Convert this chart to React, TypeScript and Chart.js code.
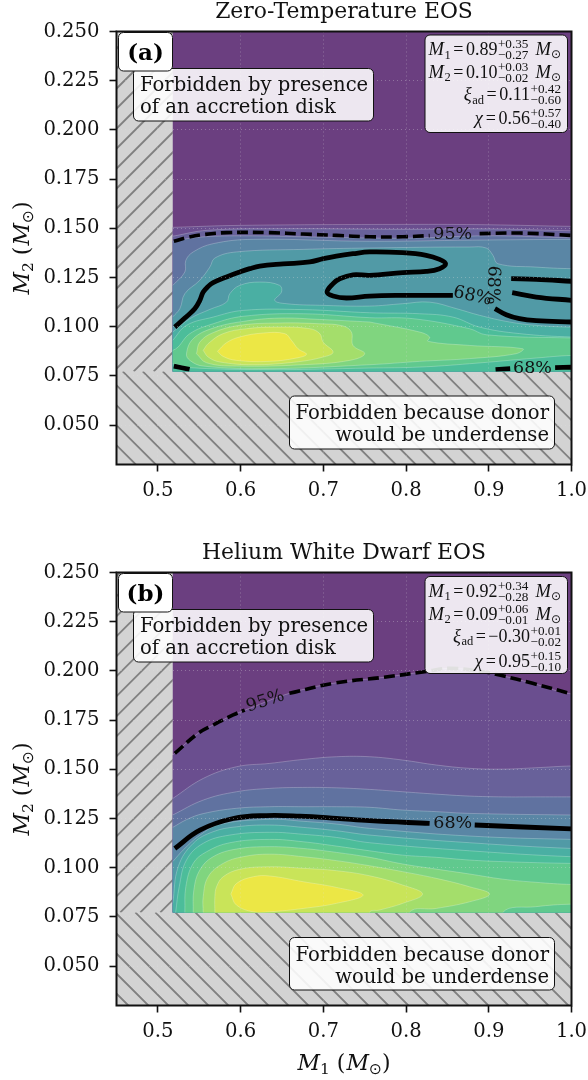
import React, { useEffect, useRef } from "react";
import { Chart, registerables } from "chart.js";

Chart.register(...registerables);

type Pt = number[];

// axes and forbidden regions (M_sun)
const xMin = 0.45, xMax = 1.0, yMin = 0.03, yMax = 0.25;
const m1Limit = 0.518, m2Limit = 0.0773;
const xTicks = [0.5, 0.6, 0.7, 0.8, 0.9, 1.0];
const yTicks = [0.05, 0.075, 0.1, 0.125, 0.15, 0.175, 0.2, 0.225, 0.25];

const levelColors = ["#6b3f80", "#6a4e8f", "#68619a", "#6072a0", "#5a86a5", "#519aa6", "#4aafa3", "#4cbd9a", "#60c98e", "#80d57f", "#a4de6b", "#c9e459", "#ece745"];

// Panel (a) probability contours: outer to inner
const a1: Pt[] = [[0.518, 0.1505], [0.6, 0.1515], [0.8, 0.152], [0.9, 0.1518], [1, 0.151]];
const a2: Pt[] = [[0.518, 0.146], [0.56, 0.149], [0.65, 0.1498], [0.8, 0.1495], [0.9, 0.1497], [1, 0.1488]];
const a3: Pt[] = [[0.518, 0.1435], [0.55, 0.1455], [0.6, 0.1462], [0.7, 0.1455], [0.8, 0.145], [0.9, 0.1462], [1, 0.1452]];
const a4: Pt[] = [[0.518, 0.121], [0.5326, 0.1278], [0.5338, 0.1337], [0.5427, 0.138], [0.5668, 0.1422], [0.6151, 0.1444], [0.756, 0.1434], [0.88, 0.144], [1, 0.1444]];
const a5: Pt[] = [[0.518, 0.105], [0.5266, 0.1092], [0.5326, 0.1168], [0.5507, 0.1236], [0.5628, 0.1303], [0.5689, 0.1349], [0.595, 0.138], [0.6755, 0.1393], [0.756, 0.14], [0.8768, 0.1405], [0.8969, 0.14], [0.905, 0.1363], [0.911, 0.132], [0.9573, 0.1303], [1, 0.1295]];
const a6: Pt[] = [[0.518, 0.0973], [0.5387, 0.1041], [0.5628, 0.1088], [0.583, 0.1125], [0.587, 0.1168], [0.599, 0.121], [0.6232, 0.1227], [0.6473, 0.121], [0.6494, 0.1176], [0.6413, 0.1134], [0.6554, 0.1117], [0.6957, 0.1109], [0.756, 0.1105], [0.796, 0.1117], [0.8285, 0.1125], [0.8607, 0.1092], [0.8889, 0.1058], [0.9251, 0.1024], [0.9573, 0.1007], [1, 0.0998]];
const a7: Pt[] = [[0.518, 0.0931], [0.5346, 0.1007], [0.5668, 0.1049], [0.603, 0.1083], [0.6755, 0.1087], [0.756, 0.1071], [0.8164, 0.1066], [0.8566, 0.1049], [0.8889, 0.0998], [0.9372, 0.0965], [1, 0.0948]];
const a8: Pt[] = [[0.48, 0.0812], [0.48, 0.088], [0.518, 0.088], [0.5387, 0.0965], [0.5668, 0.1015], [0.603, 0.1053], [0.6755, 0.1066], [0.756, 0.1046], [0.8083, 0.1041], [0.8768, 0.099], [0.8969, 0.0959], [1, 0.0943], [1.05, 0.0943], [1.05, 0.0854], [1, 0.0854], [0.9573, 0.0841], [0.8768, 0.0812], [0.8164, 0.0795], [0.756, 0.079], [0.6353, 0.0782], [0.5387, 0.0792], [0.518, 0.0812], [0.48, 0.0812]];
const a9: Pt[] = [[0.756, 0.1024], [0.8164, 0.0973], [0.8285, 0.0948], [0.8265, 0.0926], [0.8768, 0.0905], [0.9412, 0.0888], [0.9331, 0.0863], [0.8768, 0.0838], [0.8164, 0.0824], [0.756, 0.0807], [0.6353, 0.0787], [0.5548, 0.08], [0.5387, 0.0829], [0.5346, 0.0863], [0.5427, 0.0939], [0.5668, 0.0993], [0.603, 0.1027], [0.6473, 0.1044], [0.6957, 0.1037], [0.756, 0.1024]];
const a10: Pt[] = [[0.5467, 0.0863], [0.5507, 0.0922], [0.5668, 0.097], [0.599, 0.1007], [0.6473, 0.1019], [0.6957, 0.1015], [0.7238, 0.1004], [0.7339, 0.0973], [0.7359, 0.0905], [0.75, 0.0863], [0.7319, 0.0829], [0.6755, 0.0807], [0.595, 0.08], [0.5588, 0.0817], [0.5467, 0.0863]];
const a11: Pt[] = [[0.5548, 0.088], [0.5608, 0.0914], [0.5789, 0.0965], [0.6071, 0.099], [0.6433, 0.0998], [0.6836, 0.099], [0.6957, 0.0965], [0.6997, 0.0922], [0.7118, 0.0871], [0.6997, 0.0846], [0.6675, 0.0821], [0.6151, 0.0807], [0.5749, 0.0821], [0.5608, 0.0846], [0.5548, 0.088]];
const a12: Pt[] = [[0.5721, 0.0875], [0.583, 0.0919], [0.599, 0.0948], [0.6272, 0.0968], [0.6534, 0.0965], [0.6614, 0.0931], [0.6695, 0.0888], [0.6796, 0.086], [0.6675, 0.0841], [0.6353, 0.0824], [0.595, 0.0829], [0.5789, 0.0849], [0.5721, 0.0875]];

// Panel (a) credible-interval lines
const a95Left: Pt[] = [[0.5193, 0.1434], [0.5346, 0.1452], [0.5548, 0.1468], [0.583, 0.1478], [0.6353, 0.1478], [0.6755, 0.1471], [0.7158, 0.1464], [0.756, 0.1457], [0.796, 0.1457], [0.8285, 0.1463]];
const a95Right: Pt[] = [[0.8889, 0.1473], [0.9372, 0.1476], [1, 0.1464]];
const a68Main: Pt[] = [[0.5205, 0.0998], [0.5326, 0.1044], [0.5447, 0.1092], [0.5507, 0.1134], [0.5548, 0.1176], [0.5608, 0.1205], [0.5668, 0.1224], [0.583, 0.1253], [0.599, 0.1278], [0.6111, 0.1295], [0.6232, 0.1308], [0.6514, 0.1319], [0.6836, 0.1329], [0.7, 0.1346], [0.7158, 0.1359], [0.7359, 0.1371], [0.756, 0.138], [0.796, 0.1376], [0.8244, 0.1363], [0.8405, 0.1342], [0.8478, 0.132], [0.8405, 0.1295], [0.8244, 0.1281], [0.796, 0.1275], [0.756, 0.1261], [0.7359, 0.1264], [0.7198, 0.1244], [0.7118, 0.1219], [0.7045, 0.1176], [0.7118, 0.1156], [0.7279, 0.1146], [0.756, 0.1156], [0.796, 0.1159], [0.8566, 0.1159]];
const a68Lower: Pt[] = [[0.9074, 0.1092], [0.9211, 0.1061], [0.9372, 0.1041], [0.9573, 0.1031], [1, 0.1024]];
const a68Upper: Pt[] = [[0.9271, 0.1244], [0.9573, 0.1241], [1, 0.1231]];
const a68Mid: Pt[] = [[0.9283, 0.1173], [0.9573, 0.1151], [1, 0.1134]];
const a68CornerL: Pt[] = [[0.5193, 0.08], [0.5383, 0.0783]];
const a68CornerR1: Pt[] = [[0.9082, 0.0782], [0.9259, 0.0787]];
const a68CornerR2: Pt[] = [[0.9802, 0.0792], [1, 0.0794]];

// Panel (b) probability contours: outer to inner
const b1: Pt[] = [[0.518, 0.1573], [0.5487, 0.1683], [0.5668, 0.1725], [0.591, 0.1776], [0.611, 0.181], [0.659, 0.1886], [0.712, 0.1937], [0.772, 0.1967], [0.8225, 0.1996], [0.853, 0.2013], [0.893, 0.1996], [0.913, 0.1979], [0.953, 0.1937], [1, 0.1883]];
const b2: Pt[] = [[0.518, 0.1352], [0.555, 0.1454], [0.595, 0.1513], [0.635, 0.153], [0.675, 0.155], [0.716, 0.1564], [0.756, 0.1564], [0.796, 0.1547], [0.8365, 0.1522], [0.877, 0.1505], [0.917, 0.1501], [0.957, 0.1508], [1, 0.1517]];
const b3: Pt[] = [[0.518, 0.1268], [0.555, 0.1344], [0.595, 0.1386], [0.635, 0.1403], [0.675, 0.1408], [0.716, 0.1406], [0.756, 0.1398], [0.796, 0.1386], [0.8365, 0.1374], [0.877, 0.1364], [0.917, 0.136], [0.957, 0.136], [1, 0.136]];
const b4: Pt[] = [[0.518, 0.1205], [0.535, 0.1245], [0.5548, 0.1275], [0.595, 0.1302], [0.6353, 0.131], [0.6755, 0.131], [0.7158, 0.131], [0.756, 0.1307], [0.796, 0.1293], [0.8365, 0.1285], [0.877, 0.1276], [1, 0.1268]];
const b5: Pt[] = [[0.518, 0.1031], [0.5306, 0.109], [0.5507, 0.1165], [0.5749, 0.122], [0.6353, 0.1246], [0.6755, 0.1236], [0.7158, 0.1222], [0.756, 0.12], [0.877, 0.1161], [1, 0.1144]];
const b6: Pt[] = [[0.518, 0.0819], [0.5246, 0.1005], [0.5427, 0.1124], [0.5668, 0.1183], [0.595, 0.1208], [0.6353, 0.1217], [0.6755, 0.1205], [0.7158, 0.1188], [0.756, 0.1166], [0.877, 0.1127], [1, 0.1098]];
const b7: Pt[] = [[0.5215, 0.0773], [0.5258, 0.0903], [0.5346, 0.1039], [0.5548, 0.1124], [0.587, 0.1166], [0.6353, 0.118], [0.6755, 0.117], [0.7158, 0.1154], [0.756, 0.1127], [0.877, 0.1086], [1, 0.1056]];
const b8: Pt[] = [[0.5326, 0.0773], [0.5338, 0.0903], [0.5427, 0.1022], [0.5588, 0.1081], [0.587, 0.1127], [0.6353, 0.1144], [0.6755, 0.1132], [0.7158, 0.111], [0.756, 0.1086], [0.796, 0.1064], [0.8365, 0.1053], [0.877, 0.1039], [0.917, 0.1031], [1, 0.1022]];
const b9: Pt[] = [[0.5427, 0.0773], [0.5435, 0.0887], [0.5507, 0.0988], [0.5668, 0.1056], [0.595, 0.1095], [0.6353, 0.1107], [0.6755, 0.1098], [0.7158, 0.1078], [0.756, 0.1053], [0.796, 0.1019], [0.8365, 0.0993], [0.877, 0.0968], [0.917, 0.0942], [0.957, 0.0926], [1, 0.0915], [1.05, 0.0915], [1.05, 0.0815], [1, 0.0815], [0.957, 0.0802], [0.917, 0.0773]];
const b10: Pt[] = [[0.5548, 0.0773], [0.5548, 0.0853], [0.5608, 0.0954], [0.5789, 0.1022], [0.603, 0.1056], [0.6353, 0.1069], [0.6755, 0.1056], [0.7158, 0.1036], [0.756, 0.101], [0.796, 0.098], [0.8365, 0.0946], [0.877, 0.0903], [0.901, 0.0866], [0.877, 0.0827], [0.8365, 0.0793], [0.804, 0.0773]];
const b11: Pt[] = [[0.5689, 0.0773], [0.5689, 0.0853], [0.5709, 0.0903], [0.5789, 0.0954], [0.599, 0.0992], [0.6353, 0.1005], [0.6755, 0.0997], [0.7158, 0.0985], [0.756, 0.0959], [0.796, 0.0912], [0.82, 0.0866], [0.796, 0.0819], [0.768, 0.0785], [0.756, 0.0773]];
const b12: Pt[] = [[0.5882, 0.0866], [0.595, 0.092], [0.6151, 0.0954], [0.6353, 0.0958], [0.6755, 0.0929], [0.7158, 0.09], [0.748, 0.0861], [0.7158, 0.0819], [0.6755, 0.0793], [0.6353, 0.0776], [0.6151, 0.0776], [0.595, 0.081], [0.5882, 0.0866]];

// Panel (b) credible-interval lines
const b95Left: Pt[] = [[0.5205, 0.1581], [0.5487, 0.1683], [0.5668, 0.1725], [0.591, 0.1776], [0.605, 0.1801]];
const b95Right: Pt[] = [[0.659, 0.1886], [0.712, 0.1937], [0.772, 0.1967], [0.8225, 0.1996], [0.853, 0.2013], [0.893, 0.1996], [0.913, 0.1979], [0.953, 0.1937], [1, 0.1883]];
const b68Left: Pt[] = [[0.5205, 0.1098], [0.5508, 0.1191], [0.591, 0.125], [0.631, 0.1265], [0.6715, 0.1262], [0.7158, 0.1251], [0.756, 0.1239], [0.8285, 0.1225]];
const b68Right: Pt[] = [[0.883, 0.1217], [1, 0.1197]];

// Annotations
const panelTitles = ["Zero-Temperature EOS", "Helium White Dwarf EOS"];
const panelTags = ["(a)", "(b)"];
const diskNote = ["Forbidden by presence", "of an accretion disk"];
const donorNote = ["Forbidden because donor", "would be underdense"];
const statNames = ["M", "M", "ξ", "χ"];
const statSubs = ["1", "2", "ad", ""];
const statUnits = [true, true, false, false];
const aStatValues = ["0.89", "0.10", "0.11", "0.56"];
const aStatPlus = ["+0.35", "+0.03", "+0.42", "+0.57"];
const aStatMinus = ["−0.27", "−0.02", "−0.60", "−0.40"];
const bStatValues = ["0.92", "0.09", "−0.30", "0.95"];
const bStatPlus = ["+0.34", "+0.06", "+0.01", "+0.15"];
const bStatMinus = ["−0.28", "−0.01", "−0.02", "−0.10"];
const aLabels: [string, number, number, number][] = [["95%", 0.8565, 0.147, 0], ["68%", 0.8804, 0.1155, 12], ["68%", 0.9046, 0.1212, 92], ["68%", 0.9529, 0.079, 0]];
const bLabels: [string, number, number, number][] = [["95%", 0.63, 0.1845, -18], ["68%", 0.8565, 0.1225, 0]];

const OUT_L = 0.48, OUT_R = 1.05, OUT_B = 0.06;
const isBottom = (p: Pt) => p[1] <= 0.078;
function region(pts: Pt[]): Pt[] {
  const f = pts[0], l = pts[pts.length - 1];
  if (f[0] === l[0] && f[1] === l[1]) return pts;
  const out = pts.slice();
  if (isBottom(l)) out.push([l[0], OUT_B]);
  else out.push([OUT_R, l[1]], [OUT_R, OUT_B]);
  if (isBottom(f)) out.push([f[0], OUT_B]);
  else out.push([OUT_L, OUT_B], [OUT_L, f[1]]);
  out.push(f);
  return out;
}
const xy = (pts: Pt[]) => pts.map((p) => ({ x: p[0], y: p[1] }));

const SERIF = '"DejaVu Serif"';
const MATH = '"Liberation Serif"';

function roundBox(ctx: any, x0: number, y0: number, x1: number, y1: number, fill: string) {
  ctx.beginPath();
  ctx.roundRect(x0, y0, x1 - x0, y1 - y0, 5);
  ctx.fillStyle = fill;
  ctx.fill();
  ctx.lineWidth = 1;
  ctx.strokeStyle = "#111";
  ctx.stroke();
}

function hatch(ctx: any, x0: number, y0: number, x1: number, y1: number, dir: number, phase: number) {
  ctx.save();
  ctx.beginPath();
  ctx.rect(x0, y0, x1 - x0, y1 - y0);
  ctx.clip();
  ctx.strokeStyle = "#808080";
  ctx.lineWidth = 1.8;
  const h = y1 - y0;
  const step = 20;
  const start = Math.floor((x0 - h - 40) / step) * step + phase;
  ctx.beginPath();
  for (let c = start; c < x1 + h + 40; c += step) {
    if (dir > 0) { ctx.moveTo(c, y1); ctx.lineTo(c + h, y0); }
    else { ctx.moveTo(c, y0); ctx.lineTo(c + h, y1); }
  }
  ctx.stroke();
  ctx.restore();
}

type Run = { t: string; f: string; dy?: number; sup?: string; sub?: string; gap?: number };

function runWidth(ctx: any, r: Run) {
  ctx.font = r.f;
  const w = r.sup !== undefined ? Math.max(ctx.measureText(r.sup).width, ctx.measureText(r.sub || "").width) : ctx.measureText(r.t).width;
  return w + (r.gap || 0);
}
function drawRuns(ctx: any, runs: Run[], x: number, y: number) {
  let px = x;
  ctx.textAlign = "left";
  ctx.textBaseline = "alphabetic";
  for (const r of runs) {
    ctx.font = r.f;
    if (r.sup !== undefined) {
      ctx.fillText(r.sup, px, y - 6.7);
      ctx.fillText(r.sub || "", px, y + 4.3);
    } else {
      ctx.fillText(r.t, px, y + (r.dy || 0));
    }
    px += runWidth(ctx, r);
  }
}
const totalWidth = (ctx: any, runs: Run[]) => runs.reduce((a, r) => a + runWidth(ctx, r), 0);

function axisRuns(sub: string): Run[] {
  const it = `italic 22px ${SERIF}`;
  const rm = `22px ${SERIF}`;
  return [
    { t: "M", f: it },
    { t: sub, f: `15.5px ${SERIF}`, dy: 3.5, gap: 7 },
    { t: "(", f: rm, gap: 1 },
    { t: "M", f: it },
    { t: "⊙", f: `15.5px "DejaVu Sans"`, dy: 3.5 },
    { t: ")", f: rm },
  ];
}

function makePlugin(idx: number, values: string[], plus: string[], minus: string[], labels: [string, number, number, number][], showXLabel: boolean, statRows: number[], noteY: number[]) {
  return {
    id: "panelDecor" + idx,
    beforeDatasetsDraw(chart: any) {
      const { ctx, chartArea: a, scales } = chart;
      const xS = scales.x, yS = scales.y;
      const xl = xS.getPixelForValue(m1Limit), yl = yS.getPixelForValue(m2Limit);
      ctx.fillStyle = "#d3d3d3";
      ctx.fillRect(a.left, a.top, a.right - a.left, a.bottom - a.top);
      hatch(ctx, a.left, a.top, xl, yl, 1, idx === 0 ? 13.7 : 0.3);
      hatch(ctx, a.left, yl, a.right, a.bottom, -1, idx === 0 ? 2.7 : 15.3);
      ctx.save();
      ctx.beginPath();
      ctx.rect(xl, a.top, a.right - xl, yl - a.top);
      ctx.clip();
    },
    afterDatasetsDraw(chart: any) {
      chart.ctx.restore();
    },
    afterDraw(chart: any) {
      const { ctx, chartArea: a, scales } = chart;
      const xS = scales.x, yS = scales.y;
      ctx.save();
      ctx.fillStyle = "#111";
      ctx.textBaseline = "middle";
      ctx.textAlign = "center";
      ctx.font = `17.5px ${SERIF}`;
      for (const [t, xv, yv, rot] of labels) {
        ctx.save();
        ctx.translate(xS.getPixelForValue(xv), yS.getPixelForValue(yv));
        ctx.rotate((rot * Math.PI) / 180);
        ctx.fillText(t, 0, 0);
        ctx.restore();
      }
      ctx.strokeStyle = "#111";
      ctx.lineWidth = 2;
      ctx.strokeRect(a.left, a.top, a.right - a.left, a.bottom - a.top);

      const top = a.top;
      // disk note
      roundBox(ctx, 133.5, top + 37, 373.5, top + 89.5, "rgba(255,255,255,0.88)");
      ctx.fillStyle = "#111";
      ctx.textAlign = "left";
      ctx.textBaseline = "alphabetic";
      ctx.font = `19.6px ${SERIF}`;
      ctx.fillText(diskNote[0], 140, top + 59);
      ctx.fillText(diskNote[1], 140, top + 81);
      // tag
      roundBox(ctx, 118.5, top + 1, 172.5, top + 39.5, "#ffffff");
      ctx.fillStyle = "#000";
      ctx.textAlign = "center";
      ctx.font = `bold 23px ${SERIF}`;
      ctx.fillText(panelTags[idx], 145.5, top + 28.5);
      // donor note
      roundBox(ctx, 289.5, noteY[0], 554.5, noteY[1], "rgba(255,255,255,0.88)");
      ctx.fillStyle = "#111";
      ctx.textAlign = "right";
      ctx.font = `19.6px ${SERIF}`;
      ctx.fillText(donorNote[0], 549, noteY[0] + 23);
      ctx.fillText(donorNote[1], 549, noteY[0] + 45);
      // stats
      roundBox(ctx, 425, statRows[0], 567.5, statRows[1], "rgba(255,255,255,0.88)");
      ctx.fillStyle = "#111";
      const fm = `18px ${MATH}`;
      const fi = `italic 18.5px ${MATH}`;
      const fs = `12.5px ${MATH}`;
      const fss = `13.2px ${MATH}`;
      statNames.forEach((name, i) => {
        const runs: Run[] = [
          { t: name, f: fi, gap: 0.5 },
          { t: statSubs[i], f: fs, dy: 3.5, gap: 2.5 },
          { t: "=", f: fm, gap: 2.5 },
          { t: values[i], f: fm, gap: 0.5 },
          { t: "", f: fss, sup: plus[i], sub: minus[i] },
        ];
        if (statUnits[i]) {
          runs.push({ t: " ", f: fi, gap: 2.5 }, { t: "M", f: fi }, { t: "⊙", f: `12px "DejaVu Sans"`, dy: 3 });
        }
        const w = totalWidth(ctx, runs);
        drawRuns(ctx, runs, 561 - w, statRows[2 + i]);
      });
      // titles and axis labels
      ctx.fillStyle = "#111";
      ctx.textAlign = "center";
      ctx.font = `21.9px ${SERIF}`;
      ctx.fillText(panelTitles[idx], 344, top - 13.5);
      const yRuns = axisRuns("2");
      const yw = totalWidth(ctx, yRuns);
      ctx.save();
      ctx.translate(29, (a.top + a.bottom) / 2);
      ctx.rotate(-Math.PI / 2);
      drawRuns(ctx, yRuns, -yw / 2, 0);
      ctx.restore();
      if (showXLabel) {
        const xRuns = axisRuns("1");
        const xw = totalWidth(ctx, xRuns);
        drawRuns(ctx, xRuns, (a.left + a.right) / 2 - xw / 2, a.bottom + 64.5);
      }
      ctx.restore();
    },
  };
}

function Panel({ idx, top, height, areaTop, bottomH, levels, lines95, lines68, values, plus, minus, labels, statRows, noteY }: any) {
  const ref = useRef<HTMLCanvasElement>(null);
  useEffect(() => {
    const datasets: any[] = [];
    const common = { showLine: true, pointRadius: 0, pointHoverRadius: 0 };
    datasets.push({ ...common, data: xy([[OUT_L, m2Limit], [OUT_L, 0.27], [OUT_R, 0.27], [OUT_R, m2Limit]]), fill: "shape", backgroundColor: levelColors[0], borderWidth: 0, tension: 0 });
    levels.forEach((pts: Pt[], i: number) => {
      datasets.push({ ...common, data: xy(region(pts)), fill: "shape", backgroundColor: levelColors[i + 1], borderColor: "rgba(255,255,255,0.3)", borderWidth: 0.8, tension: 0.4 });
    });
    lines95.forEach((pts: Pt[]) => datasets.push({ ...common, data: xy(pts), fill: false, borderColor: "#000", borderWidth: 3.6, borderDash: [11, 5], tension: 0.4 }));
    lines68.forEach((pts: Pt[]) => datasets.push({ ...common, data: xy(pts), fill: false, borderColor: "#000", borderWidth: 4.8, tension: 0.4 }));
    datasets.forEach((d, i) => { d.order = -i; });

    const tickFont = { family: SERIF, size: 19.6 };
    const gridOpts = { color: "rgba(225,225,225,0.32)", lineWidth: 1, z: 1, tickColor: "#111", tickWidth: 1.6, tickLength: 7, tickBorderDash: [] };
    const noPad = (s: any) => { s.paddingLeft = 0; s.paddingRight = 0; s.paddingTop = 0; s.paddingBottom = 0; };
    const chart = new Chart(ref.current as HTMLCanvasElement, {
      type: "scatter",
      data: { datasets },
      options: {
        responsive: false,
        animation: false,
        layout: { autoPadding: false, padding: { top: areaTop, right: 16.5, left: 0, bottom: 0 } },
        plugins: { legend: { display: false }, tooltip: { enabled: false }, title: { display: false } },
        scales: {
          x: {
            type: "linear", min: xMin, max: xMax,
            afterBuildTicks: (s: any) => { s.ticks = xTicks.map((value) => ({ value })); },
            afterFit: (s: any) => { s.height = bottomH; noPad(s); },
            ticks: { font: tickFont, color: "#111", maxRotation: 0, autoSkip: false, padding: 8, callback: (v: any) => Number(v).toFixed(1) },
            grid: gridOpts,
            border: { display: false, dash: [1, 3] },
          },
          y: {
            type: "linear", min: yMin, max: yMax,
            afterBuildTicks: (s: any) => { s.ticks = yTicks.map((value) => ({ value })); },
            afterFit: (s: any) => { s.width = 116.5; noPad(s); },
            ticks: { font: tickFont, color: "#111", autoSkip: false, padding: 10, callback: (v: any) => Number(v).toFixed(3) },
            grid: gridOpts,
            border: { display: false, dash: [1, 3] },
          },
        },
      } as any,
      plugins: [makePlugin(idx, values, plus, minus, labels, idx === 1, statRows, noteY) as any],
    });
    return () => chart.destroy();
  }, []);
  return <canvas ref={ref} width={588} height={height} style={{ position: "absolute", left: 0, top, width: 588, height }} />;
}

const aLevels = [a1, a2, a3, a4, a5, a6, a7, a8, a9, a10, a11, a12];
const bLevels = [b1, b2, b3, b4, b5, b6, b7, b8, b9, b10, b11, b12];

export default function App() {
  return (
    <div style={{ position: "absolute", left: 0, top: 0, width: 588, height: 1080, background: "#fff" }}>
      <Panel idx={0} top={0} height={540} areaTop={31.5} bottomH={75.5}
        levels={aLevels}
        lines95={[a95Left, a95Right]}
        lines68={[a68Main, a68Lower, a68Upper, a68Mid, a68CornerL, a68CornerR1, a68CornerR2]}
        values={aStatValues} plus={aStatPlus} minus={aStatMinus} labels={aLabels}
        statRows={[35, 132.5, 55, 77.5, 100, 124]} noteY={[396, 449]} />
      <Panel idx={1} top={540} height={540} areaTop={32.5} bottomH={74.5}
        levels={bLevels}
        lines95={[b95Left, b95Right]}
        lines68={[b68Left, b68Right]}
        values={bStatValues} plus={bStatPlus} minus={bStatMinus} labels={bLabels}
        statRows={[36.5, 133.5, 56.5, 79.5, 101.5, 126.5]} noteY={[397.5, 450]} />
    </div>
  );
}
